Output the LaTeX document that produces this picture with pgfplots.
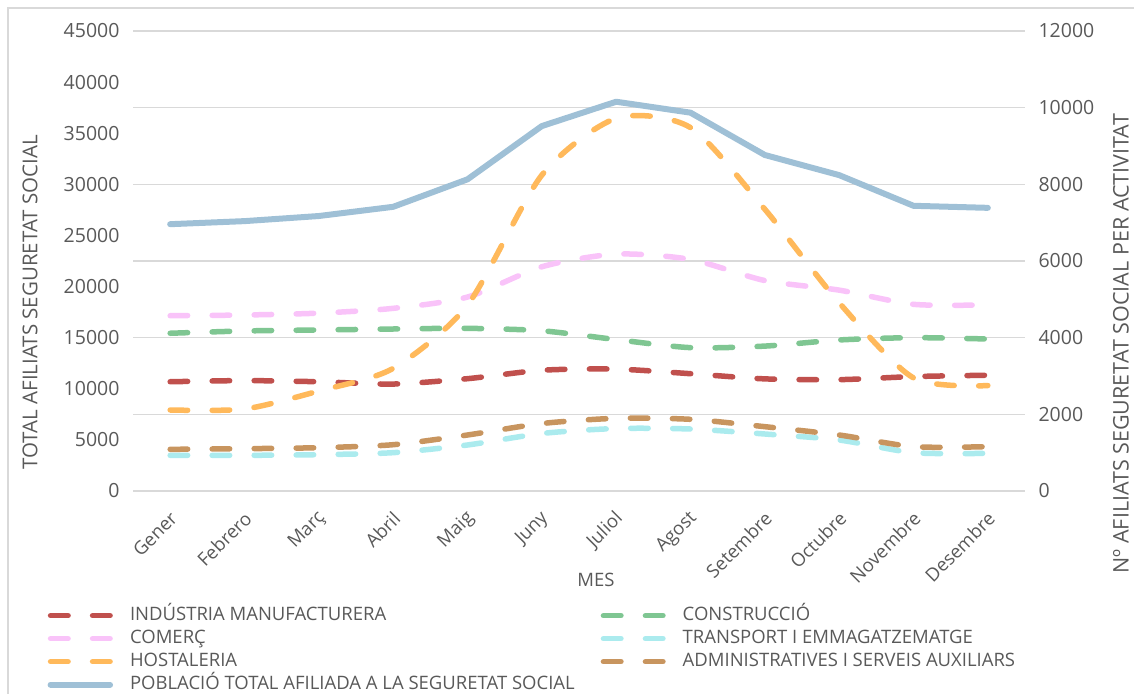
\documentclass[border=0pt]{standalone}
\usepackage{fontspec}
\setmainfont{Open Sans}
\usepackage{pgfplots}
\pgfplotsset{compat=1.18}
\definecolor{cInd}{HTML}{C0504D}
\definecolor{cCom}{HTML}{F9C3F9}
\definecolor{cHos}{HTML}{FFB95B}
\definecolor{cTot}{HTML}{9FC0D6}
\definecolor{cCon}{HTML}{7FC692}
\definecolor{cTra}{HTML}{ABEBEE}
\definecolor{cAdm}{HTML}{C8955F}
\definecolor{cTxt}{HTML}{595959}
\definecolor{cGrid}{HTML}{D9D9D9}
\newcommand\cf{\fontsize{18.5}{22}\selectfont}
\newcommand\tf{\fontsize{19.5}{22}\selectfont}
\pgfplotsset{
  dsh/.style={line width=5.5pt, line cap=round, dash pattern=on 17.5pt off 24.5pt, smooth, tension=0.45},
}
\begin{document}
\begin{tikzpicture}
\useasboundingbox (0pt,0pt) rectangle (1134pt,693pt);
\draw[cGrid, line width=1.5pt] (8pt,-10pt) -- (8pt,685pt) -- (1150pt,685pt);

\begin{axis}[
  at={(133pt,202pt)}, anchor=south west, scale only axis,
  width=892pt, height=460pt,
  xmin=-0.5, xmax=11.5, ymin=0, ymax=12000,
  xtick={0,...,11},
  xticklabels={Gener,Febrero,Març,Abril,Maig,Juny,Juliol,Agost,Setembre,Octubre,Novembre,Desembre},
  xticklabel style={xshift=6pt, yshift=-22pt, rotate=45, anchor=east, font=\cf, text=cTxt},
  ytick={0,2000,...,12000},
  yticklabel pos=right,
  yticklabel style={font=\tf, text=cTxt, xshift=10pt},
  /pgf/number format/assume math mode=true,
  /pgf/number format/1000 sep={},
  scaled y ticks=false,
  axis line style={draw=none}, major tick length=0pt,
  ymajorgrids, grid style={cGrid, line width=1.3pt},
  xlabel={MES},
  xlabel style={at={(axis description cs:0.519,-0.193)}, anchor=center, font=\cf, text=cTxt},
  ylabel={Nº AFILIATS SEGURETAT SOCIAL PER ACTIVITAT},
  ylabel style={at={(axis description cs:1.1075,0.32)}, anchor=center, font=\fontsize{21.5}{24}\selectfont, text=cTxt},
  legend columns=2,
  legend cell align=left,
  legend image code/.code={\draw[#1] (0pt,0pt) -- (59.5pt,0pt);},
  legend style={at={(axis description cs:-0.096,-0.251)}, anchor=north west,
    draw=none, fill=none, inner sep=0pt, font=\cf, text=cTxt, row sep=5pt,
    /tikz/every odd column/.append style={column sep=17pt},
    /tikz/every even column/.append style={column sep=26pt},
    nodes={inner sep=0pt, text height=14pt, text depth=4pt}},
]
\addplot[dsh, cInd] coordinates {(0,2850) (1,2880) (2,2850) (3,2790) (4,2930) (5,3150) (6,3180) (7,3060) (8,2925) (9,2905) (10,2985) (11,3020)};
\addlegendentry{INDÚSTRIA MANUFACTURERA}
\addplot[dsh, cCon] coordinates {(0,4115) (1,4175) (2,4200) (3,4226) (4,4243) (5,4180) (6,3950) (7,3740) (8,3780) (9,3940) (10,4000) (11,3965)};
\addlegendentry{CONSTRUCCIÓ}
\addplot[dsh, cCom] coordinates {(0,4573) (1,4591) (2,4640) (3,4765) (4,5060) (5,5850) (6,6180) (7,6040) (8,5490) (9,5240) (10,4870) (11,4855)};
\addlegendentry{COMERÇ}
\addplot[dsh, cTra] coordinates {(0,930) (1,930) (2,948) (3,1000) (4,1200) (5,1500) (6,1630) (7,1617) (8,1487) (9,1330) (10,1000) (11,983)};
\addlegendentry{TRANSPORT I EMMAGATZEMATGE}
\addplot[dsh, cHos] coordinates {(0,2113) (1,2139) (2,2609) (3,3200) (4,4850) (5,8240) (6,9723) (7,9480) (8,7350) (9,4910) (10,2950) (11,2750)};
\addlegendentry{HOSTALERIA}
\addplot[dsh, cAdm] coordinates {(0,1087) (1,1104) (2,1130) (3,1208) (4,1461) (5,1760) (6,1896) (7,1870) (8,1678) (9,1461) (10,1157) (11,1157)};
\addlegendentry{ADMINISTRATIVES I SERVEIS AUXILIARS}
\addlegendimage{cTot, line width=6pt, line cap=round, solid}
\addlegendentry{POBLACIÓ TOTAL AFILIADA A LA SEGURETAT SOCIAL}
\end{axis}

\begin{axis}[
  at={(133pt,202pt)}, anchor=south west, scale only axis,
  width=892pt, height=460pt,
  xmin=-0.5, xmax=11.5, ymin=0, ymax=45000,
  xtick=\empty,
  ytick={0,5000,...,45000},
  yticklabel style={font=\tf, text=cTxt, xshift=-10pt},
  /pgf/number format/assume math mode=true,
  /pgf/number format/1000 sep={},
  scaled y ticks=false,
  axis line style={draw=none}, major tick length=0pt,
  ylabel={TOTAL AFILIATS SEGURETAT SOCIAL},
  ylabel style={at={(axis description cs:-0.1155,0.41)}, anchor=center, font=\fontsize{20.5}{24}\selectfont, text=cTxt},
]
\addplot[cTot, line width=6pt, line join=round, line cap=round] coordinates {(0,26100) (1,26400) (2,26900) (3,27800) (4,30490) (5,35700) (6,38080) (7,37010) (8,32870) (9,30900) (10,27900) (11,27700)};
\end{axis}
\end{tikzpicture}
\end{document}
